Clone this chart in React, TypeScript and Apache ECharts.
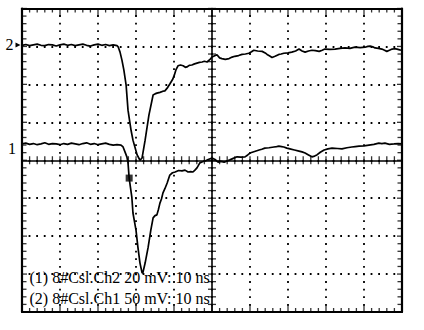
import { useEffect, useRef } from 'react';
import * as echarts from 'echarts';

const X_MIN = 0;
const X_MAX = 100;
const X_INTERVAL = 10;
const Y_MIN = -4;
const Y_MAX = 4;
const Y_INTERVAL = 1;
const MINOR_SPLIT = 5;

const trace2Points: [number, number][] = [
  [0, 3.03], [1, 3.05], [2, 3.02], [3, 3.04], [4, 3.06], [5, 3.03], [6, 3.02], [7, 3.05], [8, 3.04], [9, 3.01],
  [10, 3.04], [11, 3.06], [12, 3.03], [13, 3.05], [14, 3.02], [15, 3.04], [16, 3.06], [17, 3.03], [18, 3.01],
  [19, 3.04], [20, 3.06], [21, 3.03], [22, 3.05], [23, 3.02], [24, 3.04], [25, 3.02],
  [25.3, 2.99], [25.8, 2.85], [26.3, 2.64], [26.8, 2.38], [27.4, 1.98], [27.9, 1.32], [28.7, 0.79], [29.2, 0.53],
  [30.3, 0.14], [31.05, 0.0], [31.6, 0.06], [32.4, 0.53], [33.4, 1.19], [34.5, 1.72], [35, 1.75], [35.5, 1.77],
  [36.3, 1.79], [37.1, 1.82], [37.6, 1.83], [38.2, 1.9], [38.9, 2.01], [39.7, 2.14], [40.1, 2.25], [40.5, 2.38],
  [41.05, 2.49], [41.7, 2.51], [42.4, 2.49], [43, 2.45], [43.4, 2.46], [44, 2.5], [44.7, 2.51], [45.4, 2.54],
  [46.05, 2.56], [46.7, 2.58], [47.4, 2.59], [48, 2.61], [48.7, 2.59], [49.4, 2.65], [50, 2.72],
  [51.3, 2.78], [52, 2.7], [52.6, 2.68], [53.5, 2.66], [54.5, 2.68], [55.3, 2.72], [56, 2.74], [57, 2.76],
  [57.9, 2.79], [58.8, 2.8], [59.7, 2.82], [60.4, 2.86], [61, 2.9], [62, 2.88], [63.2, 2.87], [64, 2.83],
  [64.5, 2.79], [65.2, 2.75], [65.8, 2.71], [66.6, 2.74], [67.6, 2.79], [68.2, 2.8], [68.9, 2.82], [70, 2.83],
  [71, 2.85], [72, 2.88], [72.9, 2.93], [73.7, 2.88], [74.5, 2.85], [75.4, 2.88], [76.3, 2.9], [77.2, 2.89],
  [78.2, 2.87], [79, 2.9], [79.7, 2.93], [81, 2.92], [82.4, 2.93], [83.7, 2.95], [85, 2.96], [86.3, 2.95],
  [87.6, 2.98], [89, 2.97], [90.3, 2.98], [91, 3.0], [91.6, 3.01], [92.3, 2.99], [92.9, 2.96], [93.8, 2.95],
  [94.7, 2.93], [95.4, 2.9], [96, 2.87], [96.7, 2.9], [97.4, 2.93], [98, 2.94], [98.7, 2.93], [99.4, 2.91],
  [100, 2.9],
];

const trace1Points: [number, number][] = [
  [0, 0.43], [1, 0.45], [2, 0.42], [3, 0.44], [4, 0.41], [5, 0.43], [6, 0.46], [7, 0.42], [8, 0.44], [9, 0.43],
  [10, 0.41], [11, 0.44], [12, 0.42], [13, 0.45], [14, 0.43], [15, 0.41], [16, 0.44], [17, 0.46], [18, 0.42],
  [19, 0.44], [20, 0.41], [21, 0.43], [22, 0.45], [23, 0.42], [24, 0.4], [25, 0.41],
  [26.05, 0.4], [26.6, 0.35], [27.1, 0.22], [27.6, 0.09], [27.9, -0.07], [28.2, -0.47], [28.9, -0.97],
  [29.2, -1.39], [30, -1.84], [30.5, -2.29], [31.05, -2.71], [31.6, -2.97], [31.8, -2.97], [32.4, -2.71],
  [33.2, -2.29], [33.9, -1.84], [34.5, -1.52], [35, -1.46], [35.5, -1.44], [35.9, -1.3], [36.3, -1.13],
  [36.7, -1.02], [37.1, -0.86], [37.6, -0.75], [38.2, -0.6], [38.9, -0.39], [39.6, -0.33], [40.3, -0.31],
  [41.2, -0.27], [42.1, -0.28], [42.9, -0.26], [43.7, -0.31], [44.4, -0.3], [45, -0.31], [45.5, -0.26],
  [46.05, -0.2], [46.8, -0.07], [47.5, -0.04], [48.2, -0.02], [49, 0.02], [50, 0.06],
  [50.8, 0.02], [51.6, -0.05], [52.4, -0.03], [53.2, -0.05], [54, -0.02], [54.7, 0.01], [55.6, 0.05],
  [56.6, 0.09], [57.6, 0.08], [58.7, 0.09], [59.4, 0.14], [60, 0.19], [61.2, 0.23], [62.4, 0.27], [63.1, 0.29],
  [63.9, 0.32], [65, 0.33], [66.3, 0.35], [67, 0.36], [67.6, 0.37], [68.3, 0.36], [68.9, 0.35], [69.7, 0.32],
  [70.5, 0.3], [71.7, 0.27], [72.9, 0.24], [73.7, 0.22], [74.5, 0.19], [75.4, 0.14], [76.3, 0.09], [77, 0.11],
  [77.6, 0.14], [78.5, 0.21], [79.5, 0.27], [80.5, 0.3], [81.6, 0.32], [83, 0.31], [84.2, 0.3], [85.5, 0.33],
  [86.8, 0.35], [87.7, 0.36], [88.7, 0.37], [90, 0.38], [91.3, 0.4], [92.6, 0.42], [93.9, 0.45], [94.7, 0.44],
  [95.5, 0.45], [96.7, 0.42], [97.9, 0.43], [99, 0.44], [100, 0.43],
];

const triggerMarker: [number, number][] = [[28.2, -0.47]];

const legendLines = ['(1) 8#Csl.Ch2 20 mV: 10 ns', '(2) 8#Csl.Ch1 50 mV: 10 ns'];
const channelLabels = ['2', '1'];

const SERIF = 'Liberation Serif';
const BLACK = '#000';

// graticule tick marks, placed from the axis settings
const TW = 1.3;
const tickItems: any[] = [];
const xTickCount = ((X_MAX - X_MIN) / X_INTERVAL) * MINOR_SPLIT;
for (let i = 0; i <= xTickCount; i++) {
  const v = X_MIN + (i * X_INTERVAL) / MINOR_SPLIT;
  const major = i % MINOR_SPLIT === 0;
  const lt = major ? 8 : 4;
  const lb = major ? 7 : 4;
  tickItems.push({ value: [v, Y_MAX], symbolSize: [TW, lt], symbolOffset: [0, lt / 2] });
  tickItems.push({ value: [v, Y_MIN], symbolSize: [TW, lb], symbolOffset: [0, -lb / 2] });
  tickItems.push({ value: [v, 0], symbolSize: [TW, 8] });
}
const yTickCount = ((Y_MAX - Y_MIN) / Y_INTERVAL) * MINOR_SPLIT;
for (let i = 0; i <= yTickCount; i++) {
  const v = Y_MIN + (i * Y_INTERVAL) / MINOR_SPLIT;
  const major = i % MINOR_SPLIT === 0;
  const l = major ? 5 : 4.5;
  tickItems.push({ value: [X_MIN, v], symbolSize: [l, TW], symbolOffset: [l / 2, 0] });
  tickItems.push({ value: [X_MAX, v], symbolSize: [l, TW], symbolOffset: [-l / 2, 0] });
  tickItems.push({ value: [(X_MIN + X_MAX) / 2, v], symbolSize: [8, TW] });
}

export default function App() {
  const ref = useRef<HTMLDivElement>(null);

  useEffect(() => {
    document.body.style.margin = '0';
    if (!ref.current) return;
    const chart = echarts.init(ref.current, undefined, { renderer: 'svg' });

    const dotted = { color: BLACK, width: 1.8, type: [1.8, 5.8] as number[], dashOffset: 0.9 };

    const scaleX = { type: 'value' as const, min: X_MIN, max: X_MAX, interval: X_INTERVAL };
    const scaleY = { type: 'value' as const, min: Y_MIN, max: Y_MAX, interval: Y_INTERVAL };
    const offLine = { show: false, onZero: false };

    const lineAxis = (width: number) => ({
      show: true,
      axisLine: { show: true, onZero: false, lineStyle: { color: BLACK, width } },
      axisTick: { show: false },
      axisLabel: { show: false },
      splitLine: { show: false },
    });

    const hiddenX = (gridIndex: number) => ({ ...scaleX, gridIndex, show: false, axisLine: offLine });
    const hiddenY = (gridIndex: number) => ({ type: 'value' as const, min: 0, max: 1, gridIndex, show: false, axisLine: offLine });

    const L = 22, T = 8.5, W = 380, H = 303.5;
    const g = (left: number, top: number, width: number, height: number) => ({
      left, top, width, height, outerBoundsMode: 'none', containLabel: false,
    });

    chart.setOption({
      animation: false,
      backgroundColor: '#fff',
      grid: [
        g(L, T, W, H),
        g(L, T, W, H / 2),
        g(L, T, W / 2, H),
      ],
      xAxis: [
        { ...scaleX, gridIndex: 0, position: 'bottom', ...lineAxis(2.2), splitLine: { show: true, lineStyle: dotted } },
        { ...scaleX, gridIndex: 1, position: 'bottom', ...lineAxis(1.6) },
        hiddenX(2),
        { ...scaleX, gridIndex: 0, position: 'top', ...lineAxis(2.2) },
      ],
      yAxis: [
        { ...scaleY, gridIndex: 0, position: 'left', ...lineAxis(2.2), splitLine: { show: true, lineStyle: dotted } },
        hiddenY(1),
        { ...scaleY, gridIndex: 2, position: 'right', ...lineAxis(1.6) },
        { ...scaleY, gridIndex: 0, position: 'right', ...lineAxis(2.2) },
      ],
      series: [
        {
          type: 'scatter',
          name: 'graticule ticks',
          xAxisIndex: 0,
          yAxisIndex: 0,
          silent: true,
          clip: false,
          symbol: 'rect',
          itemStyle: { color: BLACK },
          z: 4,
          data: tickItems,
        },
        { type: 'line', name: 'Ch1', xAxisIndex: 0, yAxisIndex: 0, data: trace2Points, showSymbol: false, lineStyle: { color: BLACK, width: 1.7 }, z: 5 },
        { type: 'line', name: 'Ch2', xAxisIndex: 0, yAxisIndex: 0, data: trace1Points, showSymbol: false, lineStyle: { color: BLACK, width: 1.7 }, z: 5 },
        { type: 'scatter', xAxisIndex: 0, yAxisIndex: 0, data: triggerMarker, symbol: 'rect', symbolSize: 7, itemStyle: { color: BLACK }, z: 6 },
      ],
      graphic: [
        { type: 'text', x: 13.5, y: 44.5, style: { text: channelLabels[0], fontSize: 16, fontFamily: SERIF, fill: BLACK, align: 'right', verticalAlign: 'middle' } },
        { type: 'polygon', shape: { points: [[15.5, 42.5], [20.5, 45], [15.5, 47.5]] }, style: { fill: BLACK } },
        { type: 'text', x: 16, y: 148, style: { text: channelLabels[1], fontSize: 16, fontFamily: SERIF, fill: BLACK, align: 'right', verticalAlign: 'middle' } },
        { type: 'text', x: 29.5, y: 277.5, z: 10, style: { text: legendLines[0], fontSize: 16, fontFamily: SERIF, fill: BLACK, align: 'left', verticalAlign: 'middle' } },
        { type: 'text', x: 29.5, y: 298.5, z: 10, style: { text: legendLines[1], fontSize: 16, fontFamily: SERIF, fill: BLACK, align: 'left', verticalAlign: 'middle' } },
      ],
    });

    return () => chart.dispose();
  }, []);

  return <div ref={ref} style={{ width: 424, height: 330 }} />;
}
